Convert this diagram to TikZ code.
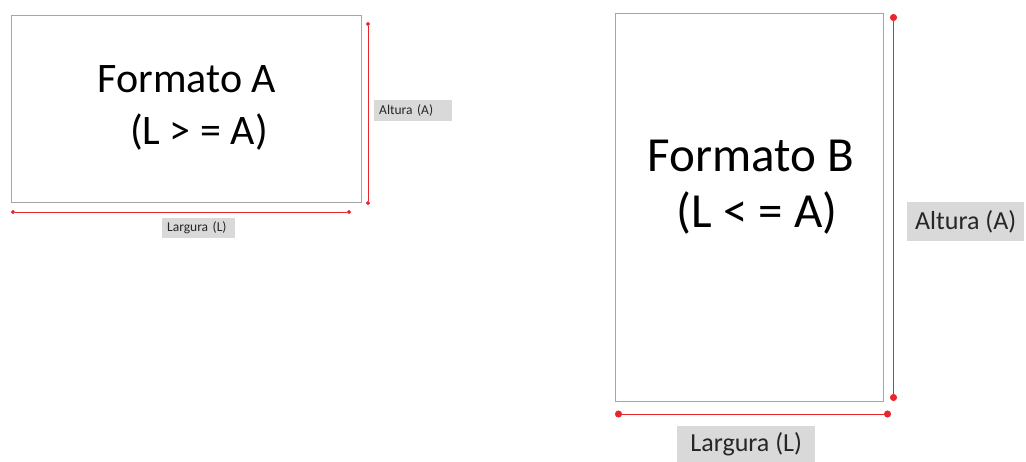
\documentclass[tikz,border=0pt]{standalone}
\usepackage{fontspec}
\setmainfont{Carlito}
\usetikzlibrary{arrows.meta, positioning}
\definecolor{dimred}{HTML}{E8262E}
\definecolor{lblgray}{HTML}{D9D9D9}
\definecolor{framegray}{HTML}{A6A6A6}
\definecolor{inkgray}{HTML}{262626}

\begin{document}
\begin{tikzpicture}[
    x=1pt, y=-1pt,
    every node/.style={text=black},
    frame/.style={draw=framegray, line width=0.9pt, anchor=north west, inner sep=0pt},
    dimline/.style={dimred, line width=0.8pt, {Circle[length=#1]}-{Circle[length=#1]}},
    dimline/.default=4pt,
    titleA/.style={font=\fontsize{42}{48}\selectfont, anchor=base},
    titleB/.style={font=\fontsize{49}{56}\selectfont, anchor=base},
    tagsmall/.style={fill=lblgray, text=inkgray, font=\fontsize{13.5}{16}\selectfont,
                     anchor=north west, inner ysep=0pt, inner xsep=5pt, align=left},
    tagbig/.style={fill=lblgray, text=inkgray, font=\fontsize{26}{30}\selectfont,
                   anchor=north west, inner sep=0pt},
  ]

  % Background
  \useasboundingbox (0,0) rectangle (1026,462);

  % --- Formato A (landscape) ---
  \node[frame, minimum width=350pt, minimum height=187pt] (frmA) at (11,15) {};
  \node[titleA] (ttlA) at (187,93) {Formato A};
  \node[titleA] (relA) at (199,145) {(L > = A)};

  % --- Formato B (portrait) ---
  \node[frame, minimum width=268pt, minimum height=388pt] (frmB) at (615,13) {};
  \node[titleB] (ttlB) at (751,172) {Formato B};
  \node[titleB] (relB) at (757,228) {(L < = A)};

  % --- Dimension end points ---
  \coordinate (wA0) at (11,212);
  \coordinate (wA1) at (351,212);
  \coordinate (hA0) at (368,22);
  \coordinate (hA1) at (368,205);
  \coordinate (wB0) at (615,414);
  \coordinate (wB1) at (891,414);
  \coordinate (hB0) at (893.5,14);
  \coordinate (hB1) at (893.5,401);

  % --- Dimension lines ---
  \draw[dimline] (wA0) -- (wA1);
  \draw[dimline] (hA0) -- (hA1);
  \draw[dimline=7pt] (wB0) -- (wB1);
  \draw[dimline=7pt] (hB0) -- (hB1);

  % --- Dimension labels ---
  \node[tagsmall, text width=68pt, minimum height=21pt] (altA) at (374,100) {Altura (A)};
  \node[tagsmall, text width=63pt, minimum height=20pt] (larA) at (162,218) {Largura (L)};
  \node[tagbig, minimum width=117pt, minimum height=39pt] (altB) at (907,202) {Altura (A)};
  \node[tagbig, minimum width=138pt, minimum height=36pt] (larB) at (677,426) {Largura (L)};

\end{tikzpicture}
\end{document}
